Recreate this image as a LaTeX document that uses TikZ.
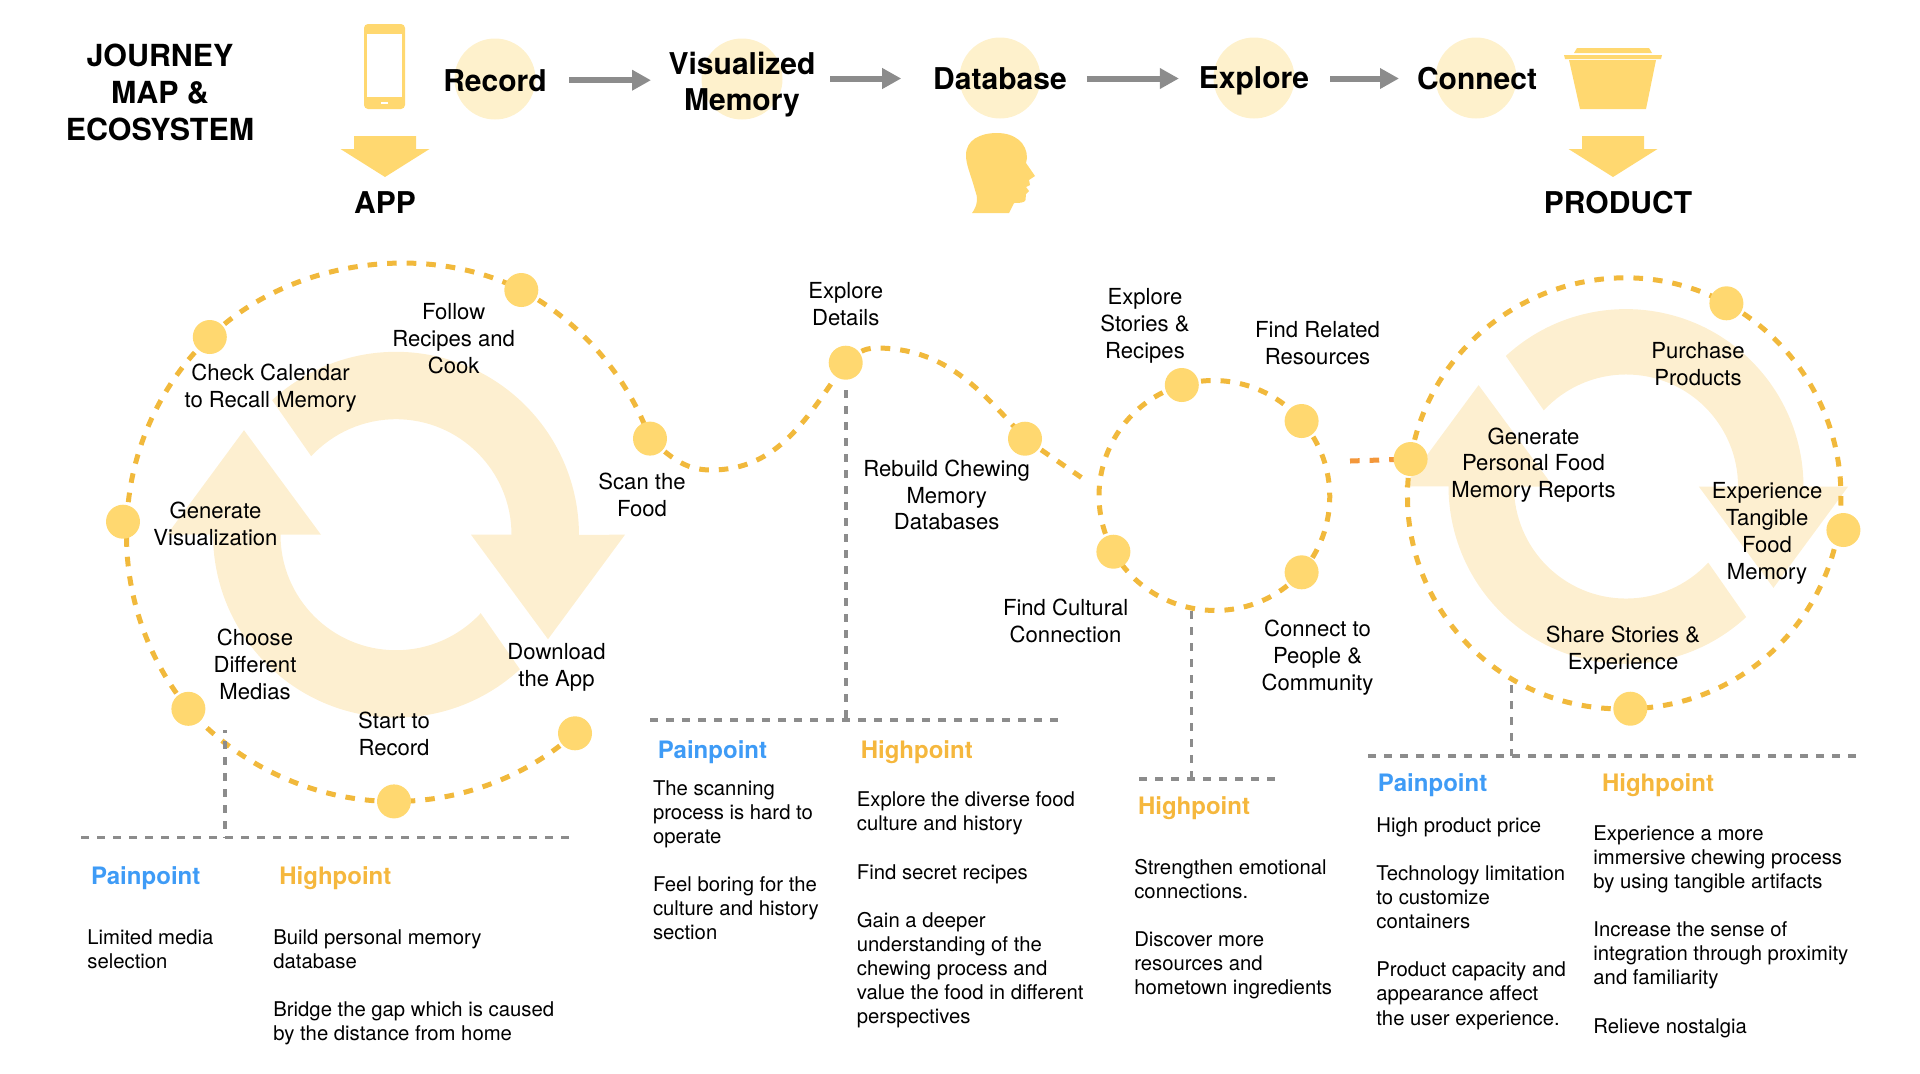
\documentclass[tikz,border=0pt]{standalone}
\usepackage{fontspec}
\setmainfont{TeX Gyre Heros}
\usepackage{xcolor}
\usetikzlibrary{arrows.meta,backgrounds}
\definecolor{iconyellow}{HTML}{FFD870}
\definecolor{paleyellow}{HTML}{FEF1CC}
\definecolor{cyclecream}{HTML}{FDEFD0}
\definecolor{dashgold}{HTML}{F1B93C}
\definecolor{linkorange}{HTML}{F3973B}
\definecolor{guidegrey}{HTML}{8C8C8C}
\definecolor{painblue}{HTML}{3E9BF6}
\definecolor{highgold}{HTML}{F5B73D}
\newcommand{\CycleArrows}[3]{%
  \foreach \turn in {0,180}{
    \fill[cyclecream, shift={(#1,#2)}, scale=#3, rotate=\turn]
      (-123.9,-134.6) arc[start angle=-132.6, end angle=0, radius=183]
      -- (229,0) -- (152,104.5) -- (75,0) -- (115.5,0)
      arc[start angle=0, end angle=-137.2, radius=115.5] -- cycle;
  }}
\newcommand{\DownBlock}[1]{%
  \fill[iconyellow] (#1-31,136) -- (#1+31,136) -- (#1+31,149) -- (#1+44.5,149)
    -- (#1,177) -- (#1-44.5,149) -- (#1-31,149) -- cycle;}

\begin{document}
\begin{tikzpicture}[
  x=0.5pt, y=-0.5pt,
  stagebg/.style={circle, fill=paleyellow, minimum size=40.5pt, inner sep=0pt},
  stage/.style={font=\fontsize{15}{18.4}\selectfont\bfseries, align=center, outer sep=10pt, inner sep=0pt},
  flow/.style={-{Triangle[length=9.5pt, width=9.8pt]}, draw=guidegrey, line width=3pt},
  dot/.style={circle, fill=iconyellow, minimum size=17pt, inner sep=0pt},
  journey/.style={draw=dashgold, line width=2.5pt, dash pattern=on 4.8pt off 5pt},
  guide/.style={draw=guidegrey, line width=1.9pt, dash pattern=on 4pt off 4pt},
  lab/.style={font=\fontsize{11.05}{13.4}\selectfont, align=center, inner sep=0pt},
  body/.style={font=\fontsize{10.15}{12.05}\selectfont, align=left, anchor=west, inner sep=0pt},
  pain/.style={font=\fontsize{12}{14}\selectfont\bfseries, text=painblue, anchor=west, inner sep=0pt},
  high/.style={font=\fontsize{12}{14}\selectfont\bfseries, text=highgold, anchor=west, inner sep=0pt}
]
\useasboundingbox (0,0) rectangle (1920,1073);

\node[stagebg] (recordbg) at (495,79) {};
\node[stagebg] (visualbg) at (742,79) {};
\node[stagebg] (databasebg) at (1000,78) {};
\node[stagebg] (explorebg) at (1254,78) {};
\node[stagebg] (connectbg) at (1476,78) {};

\node[stage, font=\fontsize{15.2}{18.4}\selectfont\bfseries] (title) at (160,92.5) {JOURNEY\\MAP \&\\ECOSYSTEM};
\node[stage] (record) at (495,80.2) {Record};
\node[stage] (visual) at (742,84.7) {Visualized\\Memory};
\node[stage] (database) at (1000,78.5) {Database};
\node[stage] (explore) at (1254,81) {Explore};
\node[stage] (connect) at (1477,78.5) {Connect};
\node[stage] (app) at (385,203) {APP};
\node[stage] (product) at (1618,203) {PRODUCT};

\draw[flow, shorten <=1.2pt, shorten >=-1.2pt] (record.east) -- (record.east -| visual.west);
\draw[flow, shorten <=-2.5pt, shorten >=6pt] (visual.east |- database.west) -- (database.west);
\draw[flow] (database.east) -- (database.east -| explore.west);
\draw[flow, shorten <=.5pt, shorten >=-1pt] (connect.west -| explore.east) -- (connect.west);

\fill[iconyellow, rounded corners=2pt] (364,24) rectangle (405,109);
\fill[white] (367,34) rectangle (402,97);
\fill[white] (381,102) rectangle (388,104);
\DownBlock{385}
\DownBlock{1613}
\fill[iconyellow] (1574,53) -- (1577,48) -- (1649,48) -- (1652,53) -- cycle;
\fill[iconyellow] (1564,55) -- (1662,55) -- (1661,59) -- (1565,59) -- cycle;
\fill[iconyellow] (1569,60) -- (1656,60) -- (1646,109) -- (1580,109) -- cycle;
\fill[iconyellow] (972,213) .. controls (978,205) and (978,197) .. (975,190)
  .. controls (970,172) and (966,165) .. (966,155)
  .. controls (966,140) and (980,133) .. (997,133)
  .. controls (1015,133) and (1027,143) .. (1027,158)
  -- (1026,163) -- (1035,176) -- (1029,180) -- (1030,185) -- (1026,187)
  -- (1029,191) -- (1026,194) -- (1025.5,200)
  .. controls (1025,203) and (1018,203) .. (1014,203) -- (1009,213) -- cycle;

\node[dot] (scan) at (650,438.6) {};
\node[dot] (cook) at (521.3,290) {};
\node[dot] (calendar) at (209.8,337) {};
\node[dot] (visualize) at (123,521.7) {};
\node[dot] (medias) at (188.4,708.8) {};
\node[dot] (startrec) at (394,801.4) {};
\node[dot] (download) at (575,733.3) {};
\node[dot] (details) at (845.7,362.7) {};
\node[dot] (rebuild) at (1025,438.7) {};
\node[dot] (stories) at (1181.8,385) {};
\node[dot] (related) at (1301.6,421) {};
\node[dot] (people) at (1301.6,572.3) {};
\node[dot] (cultural) at (1113.4,551.7) {};
\node[dot] (reports) at (1410.6,459) {};
\node[dot] (purchase) at (1726.4,303.3) {};
\node[dot] (tangible) at (1843.4,530) {};
\node[dot] (share) at (1630.3,708.7) {};

\coordinate (dip) at (711,470);
\coordinate (crest) at (876,348);
\coordinate (ringin) at (1085,480);
\coordinate (linkin) at (1350,461);

\begin{scope}[on background layer]
\CycleArrows{396}{534.7}{1}
\CycleArrows{1626}{486.5}{0.97}
\draw[journey] (download.center) to[bend left=21, looseness=.87] (startrec.center);
\draw[journey] (startrec.center) to[bend left=24.5, looseness=.87] (medias.center);
\draw[journey] (medias.center) to[bend left=21.5, looseness=.87] ([xshift=2pt]visualize.center);
\draw[journey] ([xshift=2pt]visualize.center) to[bend left=22.5, looseness=.87] (calendar.center);
\draw[journey] (calendar.center) to[bend left=35.5, looseness=.89] (cook.center);
\draw[journey] (cook.center) to[bend left=21, looseness=.87] (scan.center);
\draw[journey] (scan.center) to[out=-42, in=180] (dip) to[out=0, in=-125] (details.center);
\draw[journey] (details.center) to[out=40, in=180] (crest) to[out=0, in=132] (rebuild.center);
\draw[journey] (rebuild.center) -- (ringin);
\draw[journey] (stories.center) to[bend left=33, looseness=.92] (related.center);
\draw[journey] (related.center) to[bend left=41, looseness=.97] (people.center);
\draw[journey] (people.center) to[bend left=54, looseness=1.07] (cultural.center);
\draw[journey] (cultural.center) to[bend left=51, looseness=1.05] (stories.center);
\draw[journey, draw=linkorange] (linkin) -- (reports.center);
\draw[journey] (reports.center) to[bend left=54.5, looseness=1.07] (purchase.center);
\draw[journey] (purchase.center) to[bend left=35, looseness=.94] ([xshift=-2.5pt]tangible.center);
\draw[journey] ([xshift=-2.5pt]tangible.center) to[bend left=39.5, looseness=.96] (share.center);
\draw[journey] (share.center) to[bend left=51, looseness=1.05] (reports.center);
\end{scope}

\coordinate (leftdrop) at (224.7,730);
\coordinate (leftfoot) at (224.7,837.5);
\coordinate (ringdrop) at (1191.4,611);
\coordinate (ringfoot) at (1191.4,778.8);
\coordinate (rightdrop) at (1511.5,685);
\coordinate (rightfoot) at (1511.5,755.7);
\coordinate (midfoot) at (845.7,720);
\draw[guide, dash phase=2.5pt] (leftdrop) -- (leftfoot);
\draw[guide] (81,837.5) -- (569,837.5);
\draw[guide, shorten <=5pt] (details) -- (midfoot);
\draw[guide] (650,720) -- (1058,720);
\draw[guide] (ringdrop) -- (ringfoot);
\draw[guide] (1139,778.8) -- (1276,778.8);
\draw[guide] (rightdrop) -- (rightfoot);
\draw[guide] (1368,755.7) -- (1856,755.7);

\node[lab] (cooklab) at (453.6,338.4) {Follow\\Recipes and\\Cook};
\node[lab] (calendarlab) at (270.6,388) {Check Calendar\\to Recall Memory};
\node[lab] (scanlab) at (642,495) {Scan the\\Food};
\node[lab] (visualizelab) at (215.5,524) {Generate\\Visualization};
\node[lab] (mediaslab) at (255,664.4) {Choose\\Different\\Medias};
\node[lab] (downloadlab) at (556.5,667.3) {Download\\the App};
\node[lab] (startlab) at (394,734) {Start to\\Record};
\node[lab] (detailslab) at (845.7,304) {Explore\\Details};
\node[lab] (storieslab) at (1145,326) {Explore\\Stories \&\\Recipes};
\node[lab] (relatedlab) at (1317.5,343) {Find Related\\Resources};
\node[lab] (rebuildlab) at (946.7,495) {Rebuild Chewing\\Memory\\Databases};
\node[lab] (culturallab) at (1065.6,621) {Find Cultural\\Connection};
\node[lab] (peoplelab) at (1317.5,657.4) {Connect to\\People \&\\Community};
\node[lab] (purchaselab) at (1698,364.2) {Purchase\\Products};
\node[lab] (reportslab) at (1533.5,465.1) {Generate\\Personal Food\\Memory Reports};
\node[lab] (tangiblelab) at (1767,533.4) {Experience\\Tangible\\Food\\Memory};
\node[lab] (sharelab) at (1623,650.4) {Share Stories \&\\Experience};

\node[pain] (pain1) at (90.6,877.9) {Painpoint};
\node[high] (high1) at (279,877.9) {Highpoint};
\node[body] (painbody1) at (87,949) {Limited media\\selection};
\node[body] (highbody1) at (273,987) {Build personal memory\\database\\[12pt]Bridge the gap which is caused\\by the distance from home};

\node[pain] (pain2) at (657.4,752.2) {Painpoint};
\node[high] (high2) at (860.4,752.2) {Highpoint};
\node[body] (painbody2) at (652.6,860) {The scanning\\process is hard to\\operate\\[12pt]Feel boring for the\\culture and history\\section};
\node[body] (highbody2) at (856.5,910) {Explore the diverse food\\culture and history\\[12pt]Find secret recipes\\[12pt]Gain a deeper\\understanding of the\\chewing process and\\value the food in different\\perspectives};

\node[high] (high3) at (1137.6,808.1) {Highpoint};
\node[body] (highbody3) at (1133.9,929) {Strengthen emotional\\connections.\\[12pt]Discover more\\resources and\\hometown ingredients};

\node[pain] (pain4) at (1377.5,784.9) {Painpoint};
\node[high] (high4) at (1601.6,784.9) {Highpoint};
\node[body] (painbody4) at (1376,923.5) {High product price\\[12pt]Technology limitation\\to customize\\containers\\[12pt]Product capacity and\\appearance affect\\the user experience.};
\node[body] (highbody4) at (1593,931.5) {Experience a more\\immersive chewing process\\by using tangible artifacts\\[12pt]Increase the sense of\\integration through proximity\\and familiarity\\[12pt]Relieve nostalgia};
\end{tikzpicture}
\end{document}
